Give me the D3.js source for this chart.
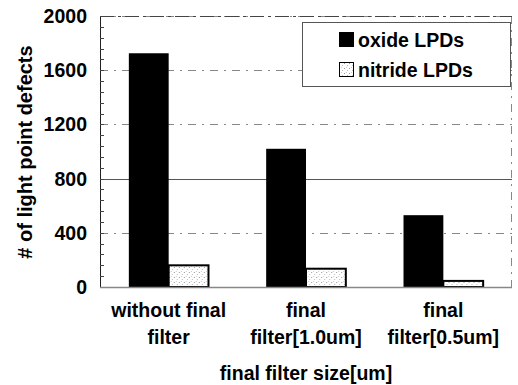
<!DOCTYPE html>
<html>
<head>
<meta charset="utf-8">
<script src="https://cdn.jsdelivr.net/npm/d3@7"></script>
<style>
  body { margin: 0; background: #fff; }
  text { font-family: "Liberation Sans", Arial, sans-serif; font-weight: bold; fill: #000; }
</style>
</head>
<body>
<div id="chart"></div>
<script>
// data
const categories = [['without final', 'filter'], ['final', 'filter[1.0um]'], ['final', 'filter[0.5um]']];
const seriesNames = ['oxide LPDs', 'nitride LPDs'];
const oxideValues = [1725, 1020, 530];
const nitrideValues = [160, 135, 45];
const yTicks = [0, 400, 800, 1200, 1600, 2000];

const width = 518, height = 385;
const margin = { top: 16, right: 6, bottom: 98, left: 100 };
const plotW = width - margin.left - margin.right;
const plotH = height - margin.top - margin.bottom;

const svg = d3.select('#chart')
  .append('svg')
  .attr('width', width)
  .attr('height', height);

// stipple pattern for the nitride bars
const pat = svg.append('defs').append('pattern')
  .attr('id', 'stipple')
  .attr('width', 5).attr('height', 5)
  .attr('patternUnits', 'userSpaceOnUse');
pat.append('rect').attr('width', 5).attr('height', 5).attr('fill', '#fff');
pat.append('rect').attr('x', 0).attr('y', 1).attr('width', 1).attr('height', 1).attr('fill', '#999');
pat.append('rect').attr('x', 3).attr('y', 3).attr('width', 1).attr('height', 1).attr('fill', '#bbb');
pat.append('rect').attr('x', 2).attr('y', 0).attr('width', 1).attr('height', 1).attr('fill', '#ccc');

const g = svg.append('g')
  .attr('transform', `translate(${margin.left},${margin.top})`);

const x0 = d3.scaleBand()
  .domain(d3.range(categories.length))
  .range([0, plotW])
  .paddingInner(0.42)
  .paddingOuter(0.21);

const x1 = d3.scaleBand()
  .domain(seriesNames)
  .range([0, x0.bandwidth()]);

const y = d3.scaleLinear()
  .domain([0, 2000])
  .range([plotH, 0]);

// gridlines (the 800 line prints solid in the original)
g.append('g')
  .selectAll('line')
  .data(yTicks.filter(d => d > 0))
  .join('line')
  .attr('x1', 0).attr('x2', plotW)
  .attr('y1', d => Math.round(y(d)) + 0.5)
  .attr('y2', d => Math.round(y(d)) + 0.5)
  .attr('stroke', d => d === 800 ? '#555' : '#888')
  .attr('stroke-width', 1)
  .attr('stroke-dasharray', d => d === 800 ? null : '8,6,2,6');

// right border
g.append('line')
  .attr('x1', plotW - 0.5).attr('x2', plotW - 0.5)
  .attr('y1', 0).attr('y2', plotH)
  .attr('stroke', '#888')
  .attr('stroke-dasharray', '8,6,2,6');

// bars
const rows = categories.map((c, i) => ({ i, values: [oxideValues[i], nitrideValues[i]] }));
const groups = g.append('g')
  .selectAll('g')
  .data(rows)
  .join('g')
  .attr('transform', d => `translate(${x0(d.i)},0)`);

groups.selectAll('rect')
  .data(d => d.values.map((v, k) => ({ key: seriesNames[k], value: v })))
  .join('rect')
  .attr('x', d => x1(d.key))
  .attr('y', d => y(d.value))
  .attr('width', x1.bandwidth())
  .attr('height', d => plotH - y(d.value))
  .attr('fill', d => d.key === seriesNames[0] ? '#000' : 'url(#stipple)')
  .attr('stroke', '#000')
  .attr('stroke-width', d => d.key === seriesNames[0] ? 0 : 2);

// left axis with minor ticks inside
const yAxis = g.append('g');
yAxis.append('line')
  .attr('x1', 0.5).attr('x2', 0.5)
  .attr('y1', 0).attr('y2', plotH)
  .attr('stroke', '#222');
yAxis.selectAll('.minor')
  .data(d3.range(0, 2001, 80))
  .join('line')
  .attr('x1', 0).attr('x2', 4)
  .attr('y1', d => Math.round(y(d)) + 0.5)
  .attr('y2', d => Math.round(y(d)) + 0.5)
  .attr('stroke', '#444');
yAxis.selectAll('text')
  .data(yTicks)
  .join('text')
  .attr('x', -13)
  .attr('y', d => y(d))
  .attr('dy', '0.36em')
  .attr('text-anchor', 'end')
  .style('font-size', '19.5px')
  .text(d => d);

// top border
g.append('line')
  .attr('x1', 0).attr('x2', plotW)
  .attr('y1', 0.5).attr('y2', 0.5)
  .attr('stroke', '#444')
  .attr('stroke-dasharray', '14,4,3,4');

// bottom axis
g.append('line')
  .attr('x1', 0).attr('x2', plotW)
  .attr('y1', plotH + 0.5).attr('y2', plotH + 0.5)
  .attr('stroke', '#888')
  .attr('stroke-width', 1.5);

// category labels
const xl = g.append('g').selectAll('text')
  .data(rows)
  .join('text')
  .attr('x', d => x0(d.i) + x0.bandwidth() / 2)
  .attr('y', plotH + 30)
  .attr('text-anchor', 'middle')
  .style('font-size', '19.5px');
xl.selectAll('tspan')
  .data(d => categories[d.i])
  .join('tspan')
  .attr('x', function() { return this.parentNode.getAttribute('x'); })
  .attr('dy', (d, k) => k === 0 ? 0 : 26.5)
  .text(d => d);

// axis titles
svg.append('text')
  .attr('x', margin.left + plotW / 2)
  .attr('y', 380)
  .attr('text-anchor', 'middle')
  .style('font-size', '19.5px')
  .text('final filter size[um]');

svg.append('text')
  .attr('transform', 'translate(32,152) rotate(-90)')
  .attr('text-anchor', 'middle')
  .style('font-size', '20px')
  .text('# of light point defects');

// legend
const legend = svg.append('g');
legend.append('rect')
  .attr('x', 302.5).attr('y', 22.5)
  .attr('width', 208).attr('height', 64)
  .attr('fill', '#fff')
  .attr('stroke', '#555');
const items = legend.selectAll('.item')
  .data(seriesNames)
  .join('g')
  .attr('transform', (d, k) => `translate(339,${32 + k * 30})`);
items.append('rect')
  .attr('x', 0.5).attr('y', 0.5)
  .attr('width', 14).attr('height', 14)
  .attr('fill', (d, k) => k === 0 ? '#000' : 'url(#stipple)')
  .attr('stroke', '#000')
  .attr('stroke-width', 1);
items.append('text')
  .attr('x', 19)
  .attr('y', 14.5)
  .style('font-size', '19.5px')
  .text(d => d);
</script>
</body>
</html>
